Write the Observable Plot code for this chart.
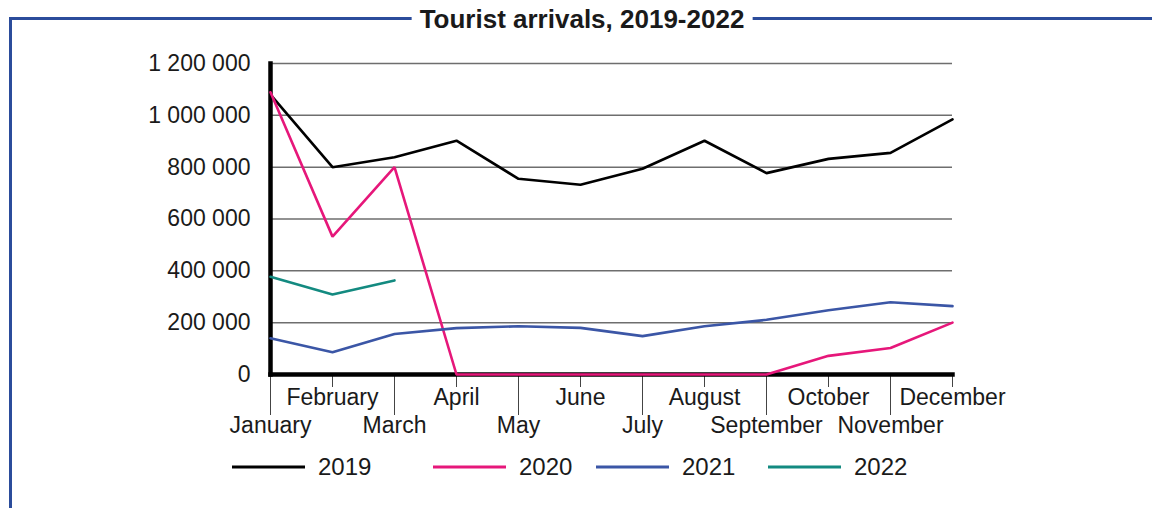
<!DOCTYPE html>
<html>
<head>
<meta charset="utf-8">
<script src="https://cdn.jsdelivr.net/npm/d3@7"></script>
<script src="https://cdn.jsdelivr.net/npm/@observablehq/plot@0.6"></script>
<style>
  html, body { margin: 0; padding: 0; background: #fff; }
  #wrap { position: relative; width: 1152px; height: 508px; overflow: hidden; font-family: "Liberation Sans", Arial, sans-serif; color: #1a1a1a; }
  #frame { position: absolute; left: 9px; top: 17px; width: 1200px; height: 600px; border-top: 3px solid #2b4c9b; border-left: 3px solid #2b4c9b; }
  #title { position: absolute; top: 4px; left: 582px; transform: translateX(-50%); background: #fff; padding: 0 8px; font-weight: bold; font-size: 26px; white-space: nowrap; }
  #chart { position: absolute; left: 0; top: 40px; }
  #legend { position: absolute; top: 453px; left: 0; width: 1152px; height: 30px; }
  .item { position: absolute; display: flex; align-items: center; font-size: 24px; }
  .item svg { margin-right: 13px; }
</style>
</head>
<body>
<div id="wrap">
  <div id="frame"></div>
  <div id="title">Tourist arrivals, 2019-2022</div>
  <div id="chart"></div>
  <div id="legend"></div>
</div>
<script>
const months = ["January","February","March","April","May","June","July","August","September","October","November","December"];
const years = ["2019","2020","2021","2022"];
const values2019 = [1080000, 800000, 838000, 902000, 755000, 732000, 794000, 902000, 777000, 832000, 855000, 984000];
const values2020 = [1089000, 532000, 800000, 0, 0, 0, 0, 0, 0, 72000, 102000, 200000];
const values2021 = [140000, 86000, 156000, 179000, 186000, 180000, 148000, 186000, 211000, 248000, 279000, 264000];
const values2022 = [377000, 309000, 363000];
const yTicks = [0, 200000, 400000, 600000, 800000, 1000000, 1200000];

const colors = ["#000000", "#e6177a", "#3b56a6", "#138a80"];
const legendLeft = [232, 433, 596, 768];

const series = [values2019, values2020, values2021, values2022];
const rows = [];
series.forEach((vals, i) => vals.forEach((v, j) => rows.push({year: years[i], month: months[j], value: v})));

const fmt = d => d3.format(",")(d).replace(/,/g, " ");
const oddMonths = months.filter((m, i) => i % 2 === 0);
const evenMonths = months.filter((m, i) => i % 2 === 1);

const chart = Plot.plot({
  width: 1152,
  height: 410,
  marginLeft: 270,
  marginRight: 200,
  marginTop: 23,
  marginBottom: 76,
  style: {fontFamily: "'Liberation Sans', Arial, sans-serif", fontSize: "23px", color: "#1a1a1a", background: "transparent"},
  x: {type: "point", domain: months, padding: 0},
  y: {domain: [0, 1200000]},
  color: {domain: years, range: colors},
  marks: [
    Plot.gridY(yTicks, {stroke: "#6e6e6e", strokeOpacity: 1, strokeWidth: 1.5}),
    Plot.axisY(yTicks, {tickSize: 0, tickPadding: 20, tickFormat: fmt, label: null, fontSize: 23}),
    Plot.axisX(evenMonths, {tickSize: 13, tickPadding: 1, label: null, fontSize: 23, stroke: "#444"}),
    Plot.axisX(oddMonths, {tickSize: 41, tickPadding: 1, label: null, fontSize: 23, stroke: "#444"}),
    Plot.frame({anchor: "bottom", stroke: "#000", strokeWidth: 4.5}),
    Plot.frame({anchor: "left", stroke: "#000", strokeWidth: 4.5}),
    Plot.line(rows, {x: "month", y: "value", z: "year", stroke: "year", strokeWidth: 2.6, strokeLinejoin: "miter"})
  ]
});
document.getElementById("chart").appendChild(chart);

const legend = document.getElementById("legend");
years.forEach((y, i) => {
  const item = document.createElement("div");
  item.className = "item";
  item.style.left = legendLeft[i] + "px";
  item.innerHTML = `<svg width="73" height="28"><line x1="0" x2="73" y1="14" y2="14" stroke="${colors[i]}" stroke-width="3"/></svg><span>${y}</span>`;
  legend.appendChild(item);
});
</script>
</body>
</html>
